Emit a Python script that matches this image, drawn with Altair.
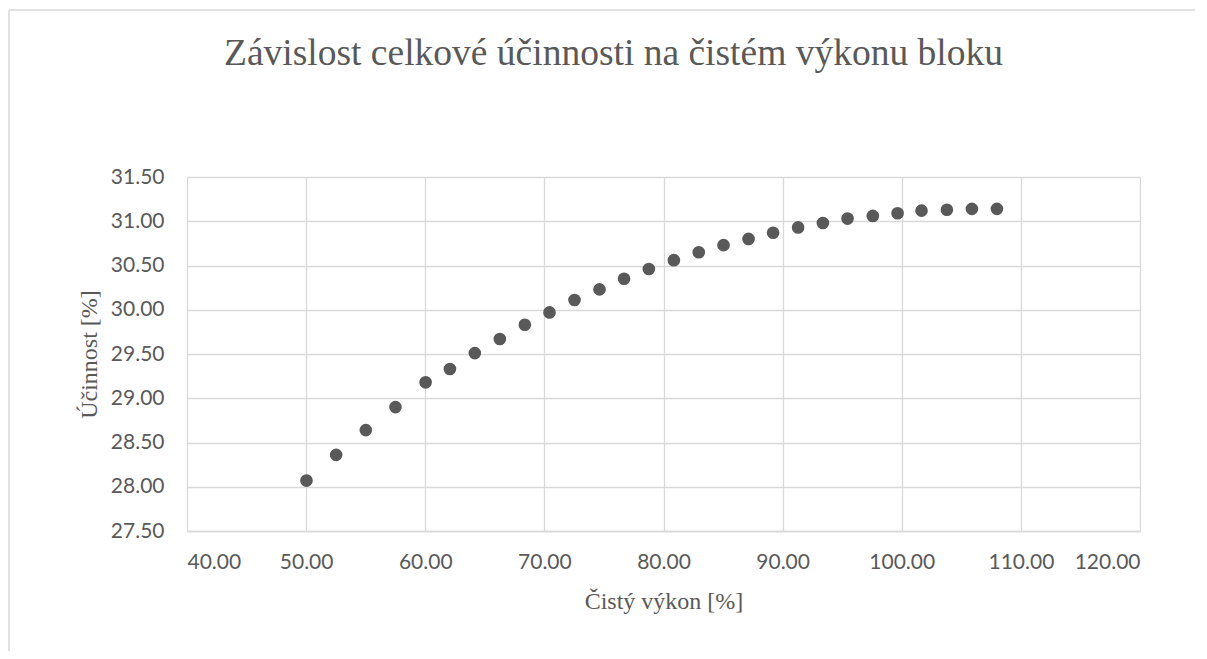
import altair as alt
import pandas as pd

# Net output [%]
vykon = [50.03, 52.52, 55.01, 57.50, 60.03, 62.07, 64.16, 66.26, 68.36, 70.43,
         72.53, 74.63, 76.69, 78.77, 80.87, 82.96, 85.04, 87.14, 89.20, 91.30,
         93.38, 95.45, 97.57, 99.65, 101.66, 103.79, 105.89, 107.99]
# Efficiency [%]
ucinnost = [28.07, 28.36, 28.64, 28.90, 29.18, 29.33, 29.51, 29.67, 29.83, 29.97,
            30.11, 30.23, 30.35, 30.46, 30.56, 30.65, 30.73, 30.80, 30.87, 30.93,
            30.98, 31.03, 31.06, 31.09, 31.12, 31.13, 31.14, 31.14]

x_ticks = [40, 50, 60, 70, 80, 90, 100, 110, 120]
y_ticks = [27.5, 28.0, 28.5, 29.0, 29.5, 30.0, 30.5, 31.0, 31.5]

df = pd.DataFrame({"vykon": vykon, "ucinnost": ucinnost})

W, H = 953, 354
PL, PT, PR, PB = 179, 169, 55, 120

grid = "#d9d9d9"
txt = "#595959"

points = alt.Chart(df).mark_circle(size=160, color="#595959", opacity=1).encode(
    x=alt.X("vykon:Q", title="Čistý výkon [%]",
            scale=alt.Scale(domain=[40, 120], nice=False, zero=False),
            axis=alt.Axis(values=x_ticks, format=".2f", labelPadding=20,
                          titlePadding=17)),
    y=alt.Y("ucinnost:Q", title="Účinnost [%]",
            scale=alt.Scale(domain=[27.5, 31.5], nice=False, zero=False),
            axis=alt.Axis(values=y_ticks, format=".2f", labelPadding=23,
                          titlePadding=9, domain=False)),
)

frame = alt.Chart(alt.Data(values=[{}]))
top_line = frame.mark_rule(color=grid, strokeWidth=1.5).encode(
    x=alt.value(-PL + 1), x2=alt.value(W + PR), y=alt.value(-PT + 2))
left_line = frame.mark_rule(color=grid, strokeWidth=1.5).encode(
    x=alt.value(-PL + 1), y=alt.value(-PT + 2), y2=alt.value(H + PB))

chart = alt.layer(top_line, left_line, points).properties(
    width=W, height=H,
    autosize=alt.AutoSizeParams(type="none"),
    padding={"left": PL, "top": PT, "right": PR, "bottom": PB},
    title=alt.TitleParams(
        "Závislost celkové účinnosti na čistém výkonu bloku",
        font="Liberation Serif", fontSize=37.5, fontWeight="normal", color=txt,
        anchor="middle", dx=-50, dy=38, baseline="alphabetic", offset=-55),
).configure_view(stroke=None).configure_axis(
    grid=True, gridColor=grid, gridWidth=1.3, ticks=False,
    domainColor=grid, domainWidth=1.3,
    labelFont="Lato", labelFontSize=21, labelColor=txt,
    titleFont="Liberation Serif", titleFontSize=24, titleFontWeight="normal",
    titleColor=txt,
)

chart.save("out.html", embed_options={"renderer": "svg", "actions": False})
